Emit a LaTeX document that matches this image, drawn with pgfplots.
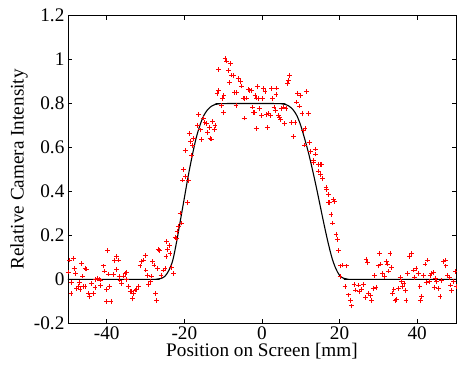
\documentclass[border=0pt]{standalone}
\usepackage{fontspec}
\setmainfont{Liberation Serif}
\usepackage{pgfplots}
\pgfplotsset{compat=1.18}
\makeatletter
\pgfdeclareplotmark{rplus}{%
  \pgfsys@color@rgb@stroke{1}{0}{0}%
  \pgfsys@color@rgb@fill{1}{0}{0}%
  \pgfpathmoveto{\pgfqpoint{-\pgfplotmarksize}{0pt}}\pgfpathlineto{\pgfqpoint{\pgfplotmarksize}{0pt}}%
  \pgfpathmoveto{\pgfqpoint{0pt}{-\pgfplotmarksize}}\pgfpathlineto{\pgfqpoint{0pt}{\pgfplotmarksize}}%
  \pgfusepathqstroke}
\makeatother
\begin{document}
\begin{tikzpicture}[font=\fontsize{19.2}{23}\selectfont]
\begin{axis}[
  scale only axis,
  width=388.1pt, height=307.6pt,
  xmin=-50, xmax=50, ymin=-0.2, ymax=1.2,
  xtick={-40,-20,0,20,40},
  ytick={-0.2,0,0.2,0.4,0.6,0.8,1,1.2},
  yticklabels={-0.2,0,0.2,0.4,0.6,0.8,1,1.2},
  xticklabels={-40,-20,0,20,40},
  tick align=inside,
  major tick length=4pt,
  axis line style={line width=0.7pt},
  tick style={line width=0.5pt, black},
  /pgf/number format/assume math mode=true,
  xlabel={Position on Screen [mm]},
  ylabel={Relative Camera Intensity},
  xlabel style={at={(axis description cs:0.5,-0.109)}, anchor=base, inner sep=0pt},
  ylabel style={at={(axis description cs:-0.149,0.5)}, anchor=north, inner sep=0pt, rotate=0},
]
\addplot[only marks, mark=rplus, mark size=2.4pt, red, mark options={line width=0.85pt}] coordinates {
(-49.6,0.088)(-48.6,0.096)(-49.9,0.033)(-48.4,0.049)(-48.0,0.027)(-49.0,-0.013)(-49.2,-0.065)(-47.7,-0.043)
(-47.3,-0.034)(-46.5,0.071)(-46.2,0.015)(-45.6,0.05)(-45.2,0.047)(-47.1,-0.013)(-46.9,-0.046)(-46.0,-0.034)
(-45.6,-0.031)(-44.7,-0.062)(-44.5,-0.08)(-43.9,-0.019)(-43.4,-0.065)(-43.0,-0.037)(-42.8,0.0)(-42.4,0.003)
(-41.9,0.001)(-41.7,-0.003)(-41.6,-0.028)(-40.9,0.061)(-40.6,0.038)(-40.0,-0.045)(-39.8,0.13)(-39.6,0.024)
(-39.2,-0.032)(-38.9,-0.1)(-40.0,-0.1)(-38.3,0.022)(-37.9,0.084)(-37.4,0.104)(-37.0,0.088)(-37.4,0.045)
(-36.7,0.012)(-36.6,-0.003)(-36.1,-0.019)(-35.7,0.015)(-35.3,0.027)(-34.9,0.032)(-35.0,0.0)(-34.4,-0.034)
(-34.0,-0.057)(-33.6,-0.057)(-33.3,-0.089)(-33.0,-0.065)(-32.7,-0.049)(-32.3,-0.046)(-31.9,-0.034)(-31.4,0.061)
(-31.0,0.081)(-30.6,0.088)(-30.1,0.107)(-29.9,0.042)(-29.4,0.019)(-29.2,-0.023)(-28.8,-0.01)(-28.4,0.015)
(-28.2,0.081)(-27.8,0.065)(-27.4,-0.065)(-27.1,-0.097)(-26.9,0.05)(-26.7,0.134)(-26.3,0.13)(-26.0,0.019)
(-25.4,0.042)(-25.0,0.05)(-24.5,0.171)(-24.4,0.134)(-23.9,0.154)(-23.7,0.116)(-24.7,0.104)(-23.3,0.055)
(-22.8,0.027)(-22.4,0.192)(-22.1,0.186)(-21.9,0.218)(-21.5,0.241)(-21.1,0.302)(-20.7,0.256)(-19.2,0.348)
(-20.3,0.501)(-20.4,0.452)(-19.6,0.467)(-18.9,0.45)
(-19.8,0.585)(-18.7,0.665)(-18.4,0.627)(-17.7,0.642)(-17.8,0.608)(-18.1,0.565)(-16.3,0.75)(-16.6,0.70)
(-15.9,0.68)(-15.5,0.636)(-15.1,0.734)(-14.7,0.712)(-14.2,0.708)(-14.0,0.67)(-13.6,0.692)(-13.4,0.642)
(-13.1,0.639)(-12.7,0.718)(-12.3,0.682)(-12.1,0.70)(-11.6,0.845)(-11.2,0.86)(-11.2,0.955)(-10.4,0.792)
(-10.1,0.822)(-9.8,0.838)(-9.9,0.758)(-9.5,1.006)(-9.1,0.994)(-8.6,0.952)(-8.2,0.983)(-8.4,0.896)
(-7.8,0.93)(-7.4,0.926)(-7.0,0.85)(-6.7,0.792)(-6.5,0.85)(-6.1,0.914)(-5.6,0.902)(-5.2,0.88)
(-4.9,0.825)(-4.6,0.734)(-4.4,0.822)(-3.9,0.825)(-3.5,0.865)(-3.1,0.86)(-2.4,0.784)(-2.0,0.761)
(-1.8,0.838)(-1.5,0.688)(-1.2,0.876)(-0.9,0.822)(-0.6,0.776)
(-2.6,0.86)(-2.2,0.761)(-1.4,0.825)(-0.7,0.776)(-0.1,0.746)(0.4,0.868)(0.8,0.856)(0.2,0.822)
(1.2,0.749)(1.7,0.753)(1.4,0.692)(2.1,0.746)(2.5,0.868)(2.8,0.822)(3.1,0.784)(3.4,0.769)
(3.8,0.871)(3.6,0.841)(4.2,0.746)(4.5,0.738)(4.8,0.727)(5.1,0.776)(5.5,0.784)(5.9,0.708)
(6.2,0.776)(6.5,0.891)(6.8,0.906)(7.1,0.929)(7.7,0.715)(8.1,0.651)(8.5,0.715)(8.96,0.807)
(9.2,0.845)(9.6,0.789)(10.0,0.835)(10.3,0.753)(10.7,0.677)(11.1,0.685)(11.5,0.856)(11.9,0.753)
(10.9,0.611)(12.2,0.624)(12.6,0.581)(13.7,0.593)(13.9,0.57)(13.3,0.532)(14.5,0.524)(15.4,0.524)
(13.3,0.539)(15.0,0.524)(14.5,0.493)(15.0,0.478)(15.7,0.458)(16.5,0.417)(16.7,0.409)(17.1,0.386)
(17.5,0.348)(17.2,0.351)(18.4,0.363)(18.6,0.356)(17.8,0.295)(18.2,0.256)(19.1,0.203)(19.4,0.18)
(19.7,0.131)(20.3,0.061)(20.8,0.065)(21.8,0.061)(20.1,0.012)(21.4,-0.031)(22.4,-0.071)(22.9,-0.095)
(23.1,-0.121)(23.7,-0.022)(24.2,-0.049)(24.8,-0.026)(25.1,-0.057)(25.7,-0.046)(26.1,-0.022)(26.6,-0.083)
(26.8,0.091)(27.2,0.076)(27.4,-0.065)(27.9,-0.072)(28.3,-0.095)(28.7,-0.042)(29.1,0.019)(29.4,-0.037)
(30.0,0.061)(30.3,0.119)(30.6,0.07)(31.1,0.027)(31.5,0.012)(32.0,0.081)(32.3,0.07)(32.6,0.038)
(33.0,0.119)(33.4,0.055)(33.7,-0.065)(34.0,-0.046)(34.3,-0.095)(34.7,-0.092)(35.2,-0.042)(35.6,0.009)
(36.0,-0.011)(36.3,-0.034)(36.6,-0.019)(36.9,-0.052)(37.1,-0.098)(37.6,0.027)(38.0,0.104)(38.6,0.116)
(39.0,0.042)(39.3,0.009)(39.7,0.05)(40.3,0.027)(40.7,-0.031)(41.2,-0.077)(40.9,-0.098)(41.6,0.019)
(42.0,0.07)(42.3,-0.016)(42.6,0.088)(43.1,-0.011)(43.3,0.019)(43.7,0.027)(44.2,0.03)(44.4,-0.037)
(44.7,0.004)(45.0,-0.011)(45.5,-0.042)(45.9,-0.08)(46.3,-0.004)(46.8,0.081)(47.2,0.088)(47.4,0.061)
(47.8,0.019)(48.3,0.009)(48.6,-0.026)(48.9,-0.052)(49.3,-0.011)(49.8,0.035)(50.0,-0.034)
};
\addplot[black, line width=1.1pt, smooth] coordinates {
(-50,0)(-28,0)(-27,0.001)(-26,0.004)(-25,0.014)(-24,0.04)(-23,0.085)(-22,0.17)(-21,0.27)(-20,0.37)
(-19,0.47)(-18,0.56)(-17,0.64)(-16,0.70)(-15,0.745)(-14,0.772)(-13,0.788)(-12,0.796)(-11,0.799)(-10,0.8)
(4,0.8)(5,0.799)(6,0.796)(7,0.788)(8,0.772)(9,0.745)(10,0.70)(11,0.64)(12,0.575)(13,0.50)
(14,0.42)(15,0.335)(16,0.25)(17,0.17)(18,0.10)(19,0.05)(20,0.018)(21,0.005)(22,0.001)(23,0)(50,0)
};
\coordinate (bl) at (axis description cs:-0.175,-0.1356);
\coordinate (tr) at (axis description cs:1.0026,1.051);
\end{axis}
\pgfresetboundingbox
\useasboundingbox (bl) rectangle (tr);
\end{tikzpicture}
\end{document}
